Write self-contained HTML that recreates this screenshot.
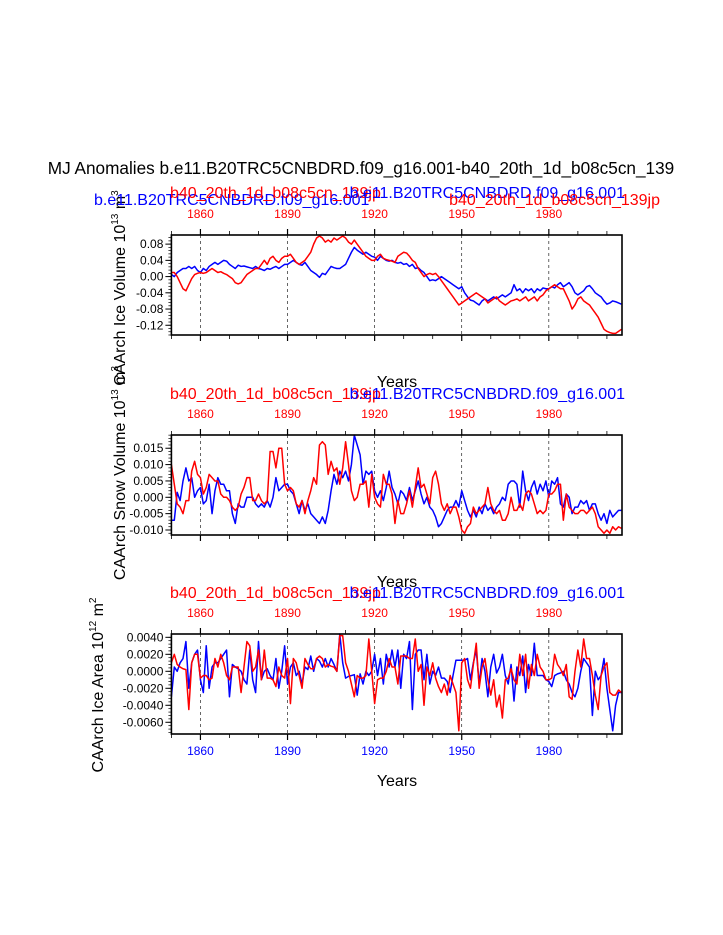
<!DOCTYPE html>
<html><head><meta charset="utf-8"><style>
html,body{margin:0;padding:0;background:#fff;}
svg{display:block;font-family:"Liberation Sans",sans-serif;}
</style></head>
<body>
<svg id="chart" width="723" height="935" viewBox="0 0 723 935" xmlns="http://www.w3.org/2000/svg">
<text x="361" y="174" font-size="17.2" text-anchor="middle">MJ Anomalies b.e11.B20TRC5CNBDRD.f09_g16.001-b40_20th_1d_b08c5cn_139</text>
<g id="plots"></g>
</svg>
<script>
const startYear = 1850;
const tickYears = [1860, 1890, 1920, 1950, 1980];
const iceVolBlue = [0.005,0.0,0.01,0.015,0.02,0.02,0.025,0.02,0.025,0.015,
0.01,0.02,0.015,0.025,0.03,0.035,0.03,0.035,0.04,0.038,
0.03,0.025,0.02,0.028,0.025,0.026,0.024,0.022,0.02,0.025,
0.02,0.018,0.015,0.02,0.018,0.022,0.025,0.02,0.025,0.03,
0.03,0.035,0.04,0.035,0.03,0.028,0.035,0.025,0.015,0.01,
0.005,-0.002,0.008,0.005,0.015,0.025,0.022,0.02,0.02,0.025,
0.03,0.045,0.06,0.072,0.065,0.06,0.055,0.06,0.055,0.05,
0.048,0.04,0.05,0.045,0.04,0.038,0.04,0.035,0.033,0.035,
0.03,0.032,0.025,0.03,0.02,0.022,0.015,0.01,0.0,-0.01,
-0.008,-0.01,-0.005,0.0,-0.005,-0.01,-0.015,-0.02,-0.025,-0.03,
-0.025,-0.04,-0.05,-0.058,-0.06,-0.065,-0.07,-0.06,-0.055,-0.06,
-0.055,-0.05,-0.055,-0.05,-0.045,-0.05,-0.045,-0.04,-0.02,-0.035,
-0.03,-0.04,-0.03,-0.035,-0.03,-0.04,-0.03,-0.035,-0.028,-0.03,
-0.03,-0.025,-0.028,-0.02,-0.015,-0.025,-0.02,-0.015,-0.025,-0.04,
-0.045,-0.04,-0.035,-0.025,-0.022,-0.03,-0.04,-0.045,-0.05,-0.06,
-0.068,-0.065,-0.06,-0.062,-0.065,-0.068];
const iceVolRed = [0.01,0.01,0.0,-0.015,-0.03,-0.035,-0.02,-0.005,0.005,0.008,
0.01,0.008,0.01,0.015,0.02,0.015,0.01,0.012,0.008,0.005,
0.0,-0.005,-0.015,-0.018,-0.015,-0.005,0.005,0.01,0.015,0.02,
0.02,0.03,0.04,0.03,0.045,0.05,0.04,0.035,0.045,0.05,
0.05,0.055,0.045,0.035,0.03,0.035,0.04,0.05,0.06,0.08,
0.095,0.1,0.095,0.085,0.09,0.085,0.095,0.09,0.095,0.1,
0.095,0.085,0.08,0.09,0.08,0.07,0.06,0.05,0.045,0.04,
0.04,0.05,0.055,0.045,0.042,0.04,0.038,0.035,0.05,0.055,
0.06,0.058,0.05,0.04,0.035,0.02,0.01,0.0,0.005,0.008,
0.005,0.008,0.0,-0.01,-0.02,-0.03,-0.04,-0.05,-0.06,-0.07,
-0.065,-0.06,-0.055,-0.05,-0.045,-0.04,-0.045,-0.05,-0.055,-0.065,
-0.06,-0.055,-0.05,-0.06,-0.065,-0.07,-0.065,-0.06,-0.058,-0.055,
-0.06,-0.055,-0.05,-0.06,-0.055,-0.05,-0.06,-0.05,-0.045,-0.035,
-0.03,-0.025,-0.02,-0.025,-0.03,-0.03,-0.045,-0.06,-0.08,-0.07,
-0.055,-0.05,-0.06,-0.065,-0.07,-0.08,-0.09,-0.1,-0.115,-0.13,
-0.135,-0.138,-0.14,-0.14,-0.135,-0.13];
const snowBlue = [-0.007,-0.007,0.0015,-0.001,0.005,0.009,0.005,0.006,0.0,0.002,
0.003,-0.002,-0.001,0.004,-0.005,0.002,0.006,0.004,0.004,0.002,
0.002,-0.005,-0.008,-0.002,-0.003,-0.003,0.0,0.0,0.0,-0.002,
-0.003,-0.002,-0.003,-0.001,-0.003,0.0,0.006,0.002,0.003,0.004,
0.004,0.002,0.001,-0.002,-0.005,-0.001,-0.004,-0.002,-0.005,-0.006,
-0.007,-0.008,-0.006,-0.008,-0.004,0.002,0.007,0.004,0.008,0.006,
0.008,0.005,0.010,0.019,0.016,0.013,0.004,0.008,0.007,0.008,
0.002,0.0,0.002,-0.001,0.003,0.008,0.003,0.001,-0.002,0.002,
0.001,-0.001,0.003,-0.001,0.002,0.005,0.001,-0.002,0.0,-0.003,
-0.004,-0.006,-0.009,-0.008,-0.006,-0.004,-0.003,-0.003,-0.001,-0.003,
0.002,-0.001,-0.004,-0.006,-0.004,-0.006,-0.003,-0.005,-0.002,-0.004,
-0.003,-0.005,-0.003,-0.002,0.0,-0.001,0.004,0.005,0.005,0.004,
-0.003,0.008,0.002,-0.001,0.003,0.005,0.001,0.004,0.002,0.005,
0.0,0.005,0.004,0.006,-0.002,-0.003,0.001,0.0,-0.005,-0.003,
-0.003,-0.001,-0.002,-0.001,-0.004,-0.002,-0.002,-0.005,-0.007,-0.005,
-0.008,-0.004,-0.006,-0.005,-0.004,-0.004];
const snowRed = [0.01,0.004,-0.002,-0.003,-0.005,-0.001,-0.001,0.008,0.011,0.007,
0.006,0.001,0.003,0.007,0.006,0.005,0.005,0.001,0.0,0.0,
-0.001,-0.003,-0.004,-0.003,0.001,0.003,0.006,0.006,-0.001,-0.001,
0.001,-0.001,-0.002,-0.001,0.014,0.014,0.009,0.015,0.015,0.004,
0.002,0.003,0.002,-0.002,-0.003,-0.001,-0.005,-0.001,0.002,0.006,
0.004,0.016,0.017,0.016,0.007,0.011,0.008,0.009,0.004,0.009,
0.017,0.01,0.002,-0.001,0.0,0.004,0.004,0.005,-0.003,0.007,
0.0,-0.002,-0.003,0.007,0.004,0.004,0.001,-0.008,-0.001,-0.005,
-0.005,-0.002,0.002,-0.003,0.003,0.009,0.003,0.004,0.001,-0.002,
0.006,0.008,0.004,-0.002,-0.004,-0.002,-0.005,-0.003,-0.003,-0.006,
-0.010,-0.011,-0.009,-0.008,-0.003,-0.005,-0.004,-0.003,-0.002,0.003,
-0.002,-0.004,-0.005,-0.004,-0.007,-0.007,-0.005,0.0,-0.004,-0.004,
-0.002,-0.004,0.001,0.002,0.001,-0.002,-0.005,-0.004,-0.005,-0.004,
0.001,0.001,0.002,0.004,0.004,-0.007,0.001,-0.003,-0.004,-0.005,
-0.005,-0.004,-0.004,-0.005,-0.004,-0.003,-0.005,-0.009,-0.01,-0.011,
-0.01,-0.011,-0.009,-0.01,-0.009,-0.0095];
const areaBlue = [-0.003,0.0005,0.0,0.001,0.0015,0.0035,-0.002,0.001,0.002,0.0025,
-0.001,-0.0025,0.003,-0.002,0.0005,0.001,0.001,0.0015,0.002,0.0025,
-0.003,0.0008,0.0005,0.0003,0.0,-0.001,-0.0015,0.0025,-0.001,-0.0025,
0.0035,-0.001,0.0,0.0003,-0.0005,-0.001,0.0015,-0.002,0.0,0.003,
-0.0015,0.0005,0.001,-0.0005,0.0,-0.0015,0.0005,0.0002,0.0018,0.0,
0.0015,0.0012,0.0005,0.0015,0.0005,0.0015,0.0008,0.0,0.0045,0.001,
-0.0008,-0.0006,-0.0005,-0.0004,-0.0028,-0.0003,-0.0015,0.0,-0.0005,0.0,
0.002,-0.0005,0.0015,-0.0015,0.002,0.0005,0.0025,0.0005,0.0025,-0.002,
0.002,0.0015,0.0035,-0.0045,0.002,0.0025,0.0025,-0.001,0.002,-0.0015,
0.0,-0.0005,0.0005,-0.0008,-0.0008,-0.0012,-0.0025,-0.0005,0.0013,0.0013,
0.0013,0.0013,0.0015,-0.001,0.001,0.0025,-0.0015,0.0015,0.0,-0.003,
0.0005,0.002,-0.0002,0.0005,0.002,-0.0005,-0.0015,0.0008,-0.0035,0.0005,
-0.0005,0.0018,-0.0025,0.0008,-0.0005,0.0033,-0.0005,-0.0005,-0.0005,-0.001,
-0.0012,-0.0018,-0.0005,-0.0003,-0.0002,0.0,-0.001,-0.0015,-0.0025,-0.003,
-0.002,0.0,0.0015,0.001,0.0005,-0.0052,0.0,-0.001,-0.0005,0.0015,
-0.002,-0.0045,-0.007,-0.004,-0.0025,-0.0025];
const areaRed = [0.001,0.002,0.0008,0.0005,0.0003,0.0002,-0.0045,0.001,0.002,0.002,
-0.0008,-0.0005,-0.0005,-0.001,-0.0008,0.0015,0.0005,0.002,0.001,-0.0005,
-0.001,0.0005,0.0005,0.0005,-0.0025,0.0005,0.0035,0.003,0.0,0.0005,
0.0025,-0.001,0.0025,-0.0008,-0.0008,-0.001,-0.0018,0.0005,-0.0005,-0.0008,
0.0015,-0.0038,0.0015,0.001,-0.0005,-0.002,0.0015,0.0008,0.0003,0.0003,
0.0015,0.0018,0.0015,0.0005,0.0008,0.0006,0.0005,0.0,0.0042,0.0042,
0.001,0.0,-0.0015,-0.003,-0.0005,-0.0008,-0.0008,-0.0005,0.0038,0.0,
-0.0038,-0.001,-0.0008,-0.0008,0.0,0.0015,0.0005,0.0005,-0.0015,0.0018,
0.0018,0.0018,0.0015,0.0015,0.0038,0.0,0.0008,-0.004,0.0005,-0.0005,
0.001,-0.0008,-0.0018,-0.0025,-0.0015,-0.0028,-0.0005,-0.0015,-0.0025,-0.007,
0.001,0.0015,-0.001,-0.002,0.0008,0.0033,-0.002,0.0005,0.0015,-0.001,
-0.0028,-0.001,-0.0042,-0.0028,-0.0055,-0.001,-0.0008,0.0003,-0.001,-0.0015,
0.002,-0.0005,0.002,-0.002,0.0008,-0.0005,0.002,0.0005,0.0,-0.001,
-0.001,-0.0008,0.002,0.0008,0.0003,-0.0005,0.0008,-0.003,-0.0033,0.0,
0.0025,0.0005,0.0038,0.0015,0.0015,-0.0005,-0.0028,-0.0045,-0.0005,0.0005,
0.001,-0.0025,-0.0028,-0.0028,-0.0022,-0.0025];
const ticks1 = [0.08,0.04,0.0,-0.04,-0.08,-0.12];
const tickLabels1 = ["0.08","0.04","0.00","-0.04","-0.08","-0.12"];
const ticks2 = [0.015,0.010,0.005,0.0,-0.005,-0.010];
const tickLabels2 = ["0.015","0.010","0.005","0.000","-0.005","-0.010"];
const ticks3 = [0.004,0.002,0.0,-0.002,-0.004,-0.006];
const tickLabels3 = ["0.0040","0.0020","0.0000","-0.0020","-0.0040","-0.0060"];

const NS = "http://www.w3.org/2000/svg";
const root = document.getElementById('plots');
const X0 = 171.4, X1 = 622, YR0 = 1850, YR1 = 2005.2;
function xs(yr){ return X0 + (yr - YR0) * (X1 - X0) / (YR1 - YR0); }
function mk(tag, attrs, parent){
  const e = document.createElementNS(NS, tag);
  for (const k in attrs) e.setAttribute(k, attrs[k]);
  (parent || root).appendChild(e);
  return e;
}
function txt(s, attrs, parent){ const t = mk('text', attrs, parent); t.textContent = s; return t; }

function panel(cfg){
  const g = mk('g', {});
  
  
  const top = cfg.top, h = 100, bot = top + h;
  const ys = v => top + (cfg.ymax - v) * h / (cfg.ymax - cfg.ymin);
  tickYears.forEach(yr => {
    const l = mk('line', {x1: xs(yr), x2: xs(yr), y1: top, y2: bot, stroke: '#000', 'stroke-width': 0.6, 'stroke-dasharray': '3,3'}, g);
    
    
  });
  for (let yr = 1850; yr <= 2000; yr += 10) {
    const major = tickYears.includes(yr);
    const len = major ? 6 : 4;
    mk('line', {x1: xs(yr), x2: xs(yr), y1: top, y2: top - len, stroke: '#000', 'stroke-width': major ? 1.2 : 0.8}, g);
    mk('line', {x1: xs(yr), x2: xs(yr), y1: bot, y2: bot + len, stroke: '#000', 'stroke-width': major ? 1.2 : 0.8}, g);
  }
  tickYears.forEach(yr => {
    const t = txt(String(yr), {x: xs(yr), y: top - 17, 'font-size': 12, fill: '#f00', 'text-anchor': 'middle'}, g);
    
    
    if (cfg.bottomLabels) {
      const b = txt(String(yr), {x: xs(yr), y: bot + 21, 'font-size': 12, fill: '#00f', 'text-anchor': 'middle'}, g);
      
      
    }
  });
  const step = (cfg.ticks[0] - cfg.ticks[1]) / 5;
  for (let v = cfg.ticks[cfg.ticks.length-1] - 5*step; v <= cfg.ymax + 1e-12; v += step) {
    if (v < cfg.ymin) continue;
    mk('line', {x1: X0, x2: X0 - 3, y1: ys(v), y2: ys(v), stroke: '#000', 'stroke-width': 0.7}, g);
  }
  cfg.ticks.forEach((v, i) => {
    mk('line', {x1: X0, x2: X0 - 6, y1: ys(v), y2: ys(v), stroke: '#000', 'stroke-width': 1}, g);
    const t = txt(cfg.tickLabels[i], {x: X0 - 8, y: ys(v) + 4, 'font-size': 12, 'text-anchor': 'end'}, g);
    
    
  });
  [[cfg.blue, '#00f', 'blue-series'], [cfg.red, '#f00', 'red-series']].forEach(([arr, col, nm]) => {
    const pts = arr.map((v, i) => xs(startYear + i).toFixed(2) + ',' + ys(Math.max(cfg.ymin, Math.min(cfg.ymax, v))).toFixed(2)).join(' ');
    const p = mk('polyline', {points: pts, fill: 'none', stroke: col, 'stroke-width': 1.5, 'stroke-linejoin': 'round'}, g);
    
    
  });
  const box = mk('rect', {x: X0, y: top, width: X1 - X0, height: h, fill: 'none', stroke: '#000', 'stroke-width': 1.6}, g);
  
  
  const yt = txt('', {transform: 'translate(' + cfg.ytX + ',' + cfg.ytY + ') rotate(-90)', 'font-size': 16, 'text-anchor': 'middle'}, g);
  
  
  yt.appendChild(document.createTextNode(cfg.ytitle + ' 10'));
  const s1 = mk('tspan', {'font-size': 10, dy: -7}, yt); s1.textContent = cfg.exp;
  const s2 = mk('tspan', {'font-size': 16, dy: 7}, yt); s2.textContent = ' m';
  const s3 = mk('tspan', {'font-size': 10, dy: -7}, yt); s3.textContent = cfg.mexp;
  const xt = txt('Years', {x: 397, y: bot + 52, 'font-size': 16, 'text-anchor': 'middle'}, g);
  
  
  return g;
}

panel({name: 'ice-volume-panel', top: 235, ymax: 0.1025, ymin: -0.144, blue: iceVolBlue, red: iceVolRed,
  ticks: ticks1, tickLabels: tickLabels1, ytitle: 'CAArch Ice Volume', exp: '13', mexp: '3', ytX: 125, ytY: 288, bottomLabels: false});
panel({name: 'snow-volume-panel', top: 435, ymax: 0.01905, ymin: -0.01153, blue: snowBlue, red: snowRed,
  ticks: ticks2, tickLabels: tickLabels2, ytitle: 'CAArch Snow Volume', exp: '13', mexp: '3', ytX: 125, ytY: 473, bottomLabels: false});
panel({name: 'ice-area-panel', top: 634, ymax: 0.00439, ymin: -0.00738, blue: areaBlue, red: areaRed,
  ticks: ticks3, tickLabels: tickLabels3, ytitle: 'CAArch Ice Area', exp: '12', mexp: '2', ytX: 103, ytY: 685, bottomLabels: true});

function sub(s, x, y, col, anchor, nm){
  const t = txt(s, {x: x, y: y, 'font-size': 16, fill: col, 'text-anchor': anchor});
  
  
}
sub('b.e11.B20TRC5CNBDRD.f09_g16.001', 94, 205, '#00f', 'start', 'left-subtitle-blue');
sub('b40_20th_1d_b08c5cn_139jp', 170, 198, '#f00', 'start', 'left-subtitle-red');
sub('b.e11.B20TRC5CNBDRD.f09_g16.001', 625, 198, '#00f', 'end', 'right-subtitle-blue');
sub('b40_20th_1d_b08c5cn_139jp', 660, 205, '#f00', 'end', 'right-subtitle-red');
sub('b40_20th_1d_b08c5cn_139jp', 170, 399, '#f00', 'start', 'panel2-subtitle-red');
sub('b.e11.B20TRC5CNBDRD.f09_g16.001', 625, 399, '#00f', 'end', 'panel2-subtitle-blue');
sub('b40_20th_1d_b08c5cn_139jp', 170, 598, '#f00', 'start', 'panel3-subtitle-red');
sub('b.e11.B20TRC5CNBDRD.f09_g16.001', 625, 598, '#00f', 'end', 'panel3-subtitle-blue');
</script>
</body></html>
